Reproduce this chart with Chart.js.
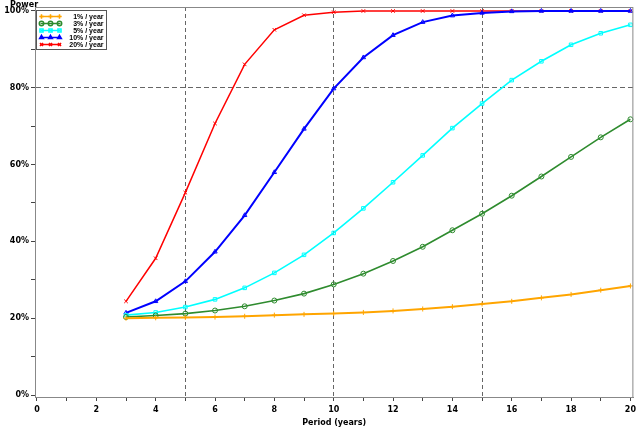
<!DOCTYPE html>
<html>
<head>
<meta charset="utf-8">
<script src="https://cdn.jsdelivr.net/npm/chart.js@4"></script>
<style>
  html, body { margin: 0; padding: 0; background: #fff; }
  #wrap { width: 640px; height: 428px; }
</style>
</head>
<body>
<div id="wrap"><canvas id="myChart" width="640" height="428"></canvas></div>
<script>
var periods = [3, 4, 5, 6, 7, 8, 9, 10, 11, 12, 13, 14, 15, 16, 17, 18, 19, 20];
var rate1 = [20.0, 20.1, 20.2, 20.3, 20.5, 20.8, 21.0, 21.2, 21.5, 21.9, 22.4, 23.0, 23.7, 24.4, 25.3, 26.2, 27.3, 28.4];
var rate3 = [20.3, 20.7, 21.2, 22.0, 23.1, 24.6, 26.4, 28.8, 31.6, 34.9, 38.6, 42.9, 47.2, 51.9, 56.9, 62.0, 67.1, 71.8];
var rate5 = [20.8, 21.5, 22.9, 24.9, 27.9, 31.8, 36.5, 42.2, 48.6, 55.4, 62.4, 69.5, 75.9, 82.0, 86.9, 91.2, 94.2, 96.4];
var rate10 = [21.4, 24.4, 29.6, 37.3, 46.8, 58.0, 69.3, 79.8, 87.9, 93.7, 97.1, 98.8, 99.5, 99.9, 100, 100, 100, 100];
var rate20 = [24.4, 35.6, 52.7, 70.7, 86.1, 95.1, 98.9, 99.7, 100, 100, 100, 100, 100, 100, 100, 100, 100, 100];
var seriesLabels = ['1% / year', '3% / year', '5% / year', '10% / year', '20% / year'];
var xTicks = [0, 1, 2, 3, 4, 5, 6, 7, 8, 9, 10, 11, 12, 13, 14, 15, 16, 17, 18, 19, 20];
var yTicks = [0, 10, 20, 30, 40, 50, 60, 70, 80, 90, 100];
var refX = [5, 10, 15];
var refY = [80];

function pts(vals) {
    return vals.map(function(v, i) { return { x: periods[i], y: v }; });
}

var tickFont = { family: 'DejaVu Sans', size: 8, weight: 'bold' };

var frameAndLegend = {
    id: 'frameAndLegend',
    afterDraw: function(chart) {
        var ctx = chart.ctx;
        var a = chart.chartArea;
        ctx.save();
        ctx.strokeStyle = '#888';
        ctx.lineWidth = 1;
        ctx.strokeRect(a.left + 0.5, a.top + 0.5, a.right - a.left - 1, a.bottom - a.top);

        // y axis title at the top left
        ctx.fillStyle = '#000';
        ctx.font = 'bold 8px "DejaVu Sans"';
        ctx.textAlign = 'left';
        ctx.textBaseline = 'middle';
        ctx.fillText('Power', 10, 5);

        // legend box
        var bx = a.left + 1.5, by = a.top + 3.5;
        ctx.strokeStyle = '#555';
        ctx.strokeRect(bx, by, 70, 39);
        chart.data.datasets.forEach(function(ds, i) {
            var yy = by + 6 + i * 7;
            ctx.strokeStyle = ds.borderColor;
            ctx.fillStyle = 'rgba(0,0,0,0)';
            ctx.lineWidth = 1.5;
            ctx.beginPath();
            ctx.moveTo(bx + 4, yy);
            ctx.lineTo(bx + 24, yy);
            ctx.stroke();
            [bx + 5, bx + 14, bx + 23].forEach(function(px) {
                Chart.helpers.drawPoint(ctx, {
                    pointStyle: ds.pointStyle, radius: 2.2, borderWidth: 1
                }, px, yy);
            });
            ctx.fillStyle = '#000';
            ctx.font = 'bold 7px "Liberation Sans"';
            ctx.textAlign = 'right';
            ctx.fillText(ds.label, bx + 67, yy + 0.5);
        });
        ctx.restore();
    }
};

var colors = ['#FFA500', '#2E8B2E', '#00FFFF', '#0000FF', '#FF0000'];
var styles = ['cross', 'circle', 'rect', 'triangle', 'crossRot'];
var widths = [2, 1.6, 1.6, 2, 1.5];
var allRates = [rate1, rate3, rate5, rate10, rate20];

var datasets = allRates.map(function(r, i) {
    return {
        label: seriesLabels[i],
        data: pts(r),
        borderColor: colors[i],
        backgroundColor: colors[i],
        pointBackgroundColor: 'rgba(0,0,0,0)',
        pointBorderColor: colors[i],
        pointStyle: styles[i],
        pointRadius: 2.5,
        pointBorderWidth: 1,
        borderWidth: widths[i],
        tension: 0,
        clip: false
    };
});

function setTicks(list) {
    return function(s) { s.ticks = list.map(function(v) { return { value: v }; }); };
}

var ctx = document.getElementById('myChart').getContext('2d');
var myChart = new Chart(ctx, {
    type: 'line',
    data: { datasets: datasets },
    options: {
        responsive: false,
        animation: false,
        layout: { padding: { top: 7, right: 4, left: 0, bottom: 0 } },
        plugins: {
            legend: { display: false },
            tooltip: { enabled: false }
        },
        scales: {
            x: {
                type: 'linear',
                min: -0.067,
                max: 20.1,
                afterBuildTicks: setTicks(xTicks),
                afterFit: function(s) { s.height = 31; },
                ticks: {
                    autoSkip: false,
                    maxRotation: 0,
                    color: '#000',
                    font: tickFont,
                    padding: 4,
                    callback: function(v) { return v % 2 === 0 ? String(v) : ''; }
                },
                grid: {
                    color: function(c) { return c.tick && refX.indexOf(c.tick.value) >= 0 ? '#666' : 'rgba(0,0,0,0)'; },
                    tickColor: '#444',
                    tickLength: 4,
                    lineWidth: 1
                },
                border: { display: true, color: '#888', dash: [4, 3] },
                title: {
                    display: true,
                    text: 'Period (years)',
                    color: '#000',
                    font: tickFont,
                    padding: { top: 2, bottom: 0 }
                }
            },
            y: {
                min: -0.52,
                max: 101.04,
                afterBuildTicks: setTicks(yTicks),
                afterFit: function(s) { s.width = 35; },
                ticks: {
                    autoSkip: false,
                    color: '#000',
                    font: tickFont,
                    padding: 2,
                    callback: function(v) { return v % 20 === 0 ? v + '%' : ''; }
                },
                grid: {
                    color: function(c) { return c.tick && refY.indexOf(c.tick.value) >= 0 ? '#666' : 'rgba(0,0,0,0)'; },
                    tickColor: '#444',
                    tickLength: 4,
                    lineWidth: 1
                },
                border: { display: true, color: '#888', dash: [5, 3] }
            }
        }
    },
    plugins: [frameAndLegend]
});
</script>
</body>
</html>
